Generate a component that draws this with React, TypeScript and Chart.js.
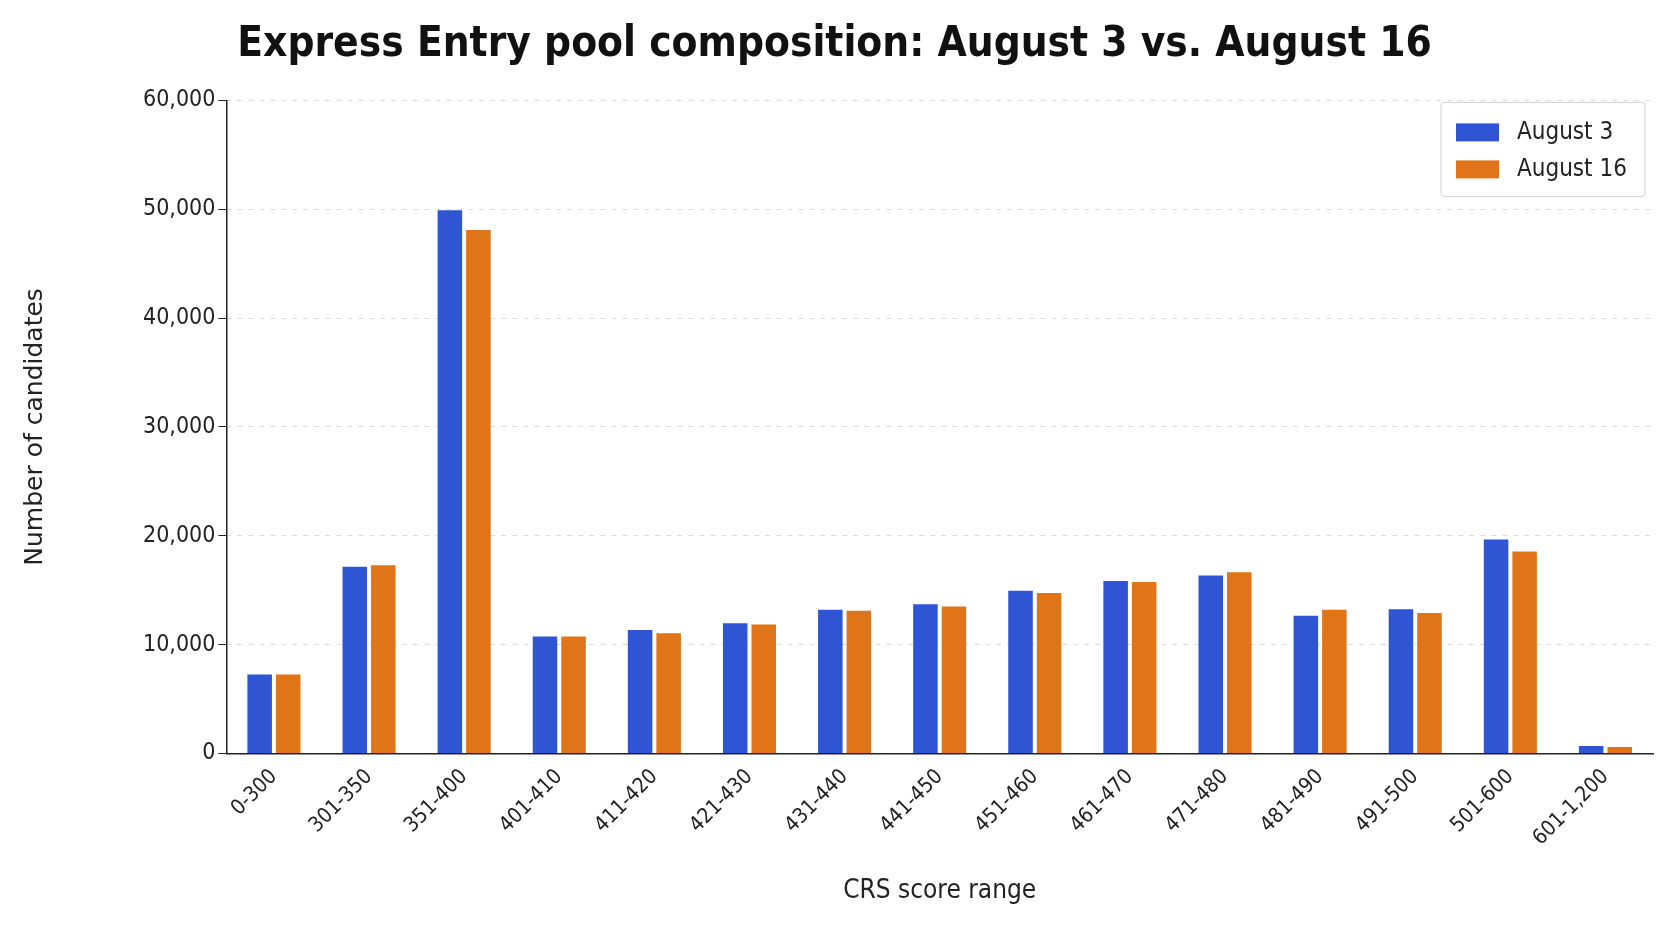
import React, { useEffect, useRef } from "react";
import { Chart, registerables } from "chart.js";
Chart.register(...registerables);

const categories = ["0-300","301-350","351-400","401-410","411-420","421-430","431-440","441-450","451-460","461-470","471-480","481-490","491-500","501-600","601-1,200"];
const august3 = [7250,17150,49900,10750,11350,11950,13200,13700,14950,15850,16350,12650,13250,19650,690];
const august16 = [7250,17300,48100,10750,11050,11850,13100,13500,14750,15750,16650,13200,12900,18550,590];
const seriesNames = ["August 3", "August 16"];
const colors = ["#2f55d4", "#e07419"];
const FONT = "'Liberation Sans Narrow', 'DejaVu Sans Condensed', 'Roboto Condensed', 'Liberation Sans', sans-serif";

const legendBox = {
  id: "legendBox",
  afterDraw(chart: any) {
    const { ctx, chartArea } = chart;
    const w = 204, h = 94;
    const x = chartArea.right - w - 8, y = chartArea.top + 2;
    ctx.save();
    ctx.fillStyle = "rgba(255,255,255,0.9)";
    ctx.strokeStyle = "#d0d0d0";
    ctx.lineWidth = 1;
    ctx.beginPath();
    ctx.roundRect(x, y, w, h, 3);
    ctx.fill();
    ctx.stroke();
    ctx.font = `24px ${FONT}`;
    ctx.textBaseline = "middle";
    seriesNames.forEach((n, i) => {
      const cy = y + 30 + i * 37;
      ctx.fillStyle = colors[i];
      ctx.fillRect(x + 15, cy - 9, 43, 18);
      ctx.fillStyle = "#222";
      ctx.fillText(n, x + 76, cy);
    });
    ctx.restore();
  },
};

export default function App() {
  const ref = useRef<HTMLCanvasElement>(null);
  useEffect(() => {
    document.body.style.margin = "0";
    const chart = new Chart(ref.current!, {
      type: "bar",
      data: {
        labels: categories,
        datasets: [
          { label: seriesNames[0], data: august3, backgroundColor: colors[0] },
          { label: seriesNames[1], data: august16, backgroundColor: colors[1] },
        ],
      },
      options: {
        animation: false,
        responsive: false,
        layout: { padding: { left: 16, right: 18, top: 0, bottom: 30 } },
        datasets: { bar: { categoryPercentage: 0.6, barPercentage: 0.86 } } as any,
        plugins: {
          legend: { display: false },
          tooltip: { enabled: false },
          title: {
            display: true,
            text: "Express Entry pool composition: August 3 vs. August 16",
            font: { family: FONT, size: 42, weight: "bold" },
            color: "#111",
            padding: { top: 20, bottom: 30 },
          },
        },
        scales: {
          x: {
            grid: { display: false, drawTicks: true, tickLength: 8 },
            border: { color: "#222", width: 1.5 },
            ticks: { color: "#222", font: { family: FONT, size: 21 }, maxRotation: 45, minRotation: 45 },
            title: { display: true, text: "CRS score range", color: "#222", font: { family: FONT, size: 26 }, padding: { top: 22 } },
          },
          y: {
            min: 0, max: 60000,
            ticks: { stepSize: 10000, color: "#222", font: { family: FONT, size: 23 }, callback: (v: any) => Number(v).toLocaleString("en-US") },
            grid: { color: "#dcdcdc", lineWidth: 1, tickLength: 8, drawTicks: true, tickColor: "#222" } as any,
            border: { color: "#222", width: 1.5, dash: [] },
            title: { display: true, text: "Number of candidates", color: "#222", font: { family: "'DejaVu Sans', sans-serif", size: 25 }, padding: { bottom: 90 } },
          },
        },
      },
      plugins: [
        legendBox,
        {
          id: "dashGrid",
          beforeDatasetsDraw(chart: any) {
            const { ctx, chartArea, scales } = chart;
            ctx.save();
            ctx.strokeStyle = "#ffffff";
            ctx.lineWidth = 2;
            ctx.setLineDash([6, 5]);
            scales.y.ticks.forEach((t: any) => {
              if (t.value === 0) return;
              const yy = scales.y.getPixelForValue(t.value);
              ctx.beginPath();
              ctx.moveTo(chartArea.left + 5, yy);
              ctx.lineTo(chartArea.right, yy);
              ctx.stroke();
            });
            ctx.restore();
          },
        },
      ],
    });
    return () => chart.destroy();
  }, []);
  return <canvas ref={ref} width={1671} height={941} style={{ display: "block" }} />;
}
